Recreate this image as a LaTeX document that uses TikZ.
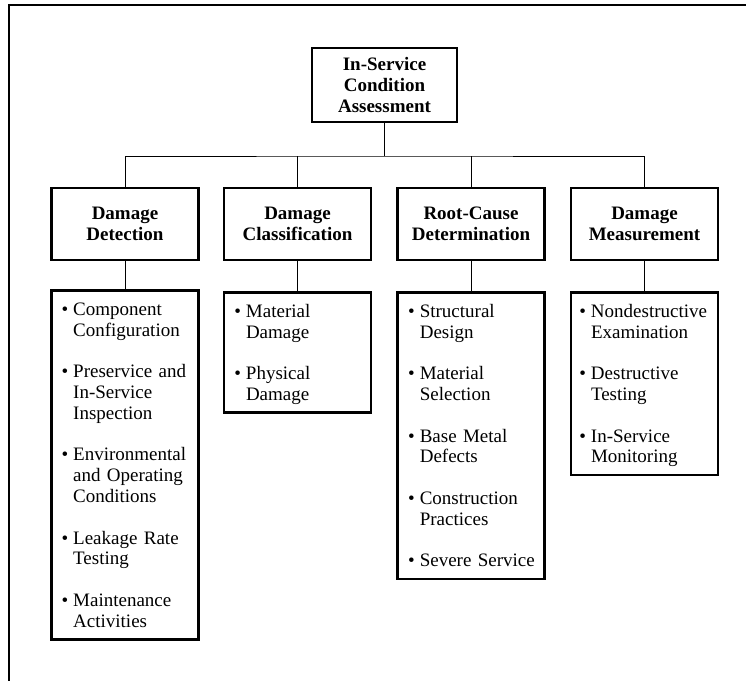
\documentclass[tikz,border=0pt]{standalone}
\usepackage{fontspec}
\setmainfont{Liberation Serif}
\newcommand{\itm}{\leavevmode\llap{\textbullet\kern2.5pt}}
\tikzset{
  headbox/.style={draw, line width=1.35pt, minimum width=73.5pt, minimum height=36pt,
    inner sep=0pt, align=center, font=\fontsize{9.5}{10.4}\selectfont\bfseries},
  listbox/.style={draw, line width=1.35pt, anchor=north, minimum width=73.5pt,
    inner xsep=0pt, inner ysep=0pt, text width=#1, align=left,
    font=\fontsize{9.5}{10.4}\selectfont,
    execute at begin node={\hyphenpenalty=10000\exhyphenpenalty=10000\rule{0pt}{12.5pt}},
    execute at end node={\rule[-6pt]{0pt}{6pt}}},
  link/.style={line width=0.5pt}
}
\begin{document}
\begin{tikzpicture}[x=0.5pt,y=-0.5pt]
\useasboundingbox (0,0) rectangle (746,681);
\draw [line width=1.25pt] (9,700) -- (9,5) -- (760,5);
\node [headbox, minimum width=72.5pt, minimum height=37pt] (isca) at (384.5,85) {In-Service\\Condition\\Assessment};
\node [headbox] (det) at (125,224) {Damage\\Detection};
\node [headbox] (cls) at (297.5,224) {Damage\\Classification};
\node [headbox] (rc) at (471,224) {Root-Cause\\Determination};
\node [headbox] (dm) at (644.5,224) {Damage\\Measurement};
\coordinate (bus) at (384.5,156);
\draw [link] (isca) -- (bus);
\draw [link] (det) |- (bus) -| (dm);
\draw [link] (cls) -- (cls |- bus);
\draw [link] (rc) -- (rc |- bus);
\node [listbox=51.8pt] (detlist) at (125,289) {\itm Component\\Configuration\\[10.4pt]
  \itm Preservice~and\\In-Service\\Inspection\\[10.4pt]
  \itm Environmental\\and~Operating\\Conditions\\[10.4pt]
  \itm Leakage~Rate\\Testing\\[10.4pt]
  \itm Maintenance\\Activities};
\node [listbox=51.5pt] (clslist) at (297.5,291) {\itm Material\\Damage\\[10.4pt]
  \itm Physical\\Damage};
\node [listbox=51.2pt] (rclist) at (471,291) {\itm Structural\\Design\\[10.4pt]
  \itm Material\\Selection\\[10.4pt]
  \itm Base~Metal\\Defects\\[10.4pt]
  \itm Construction\\Practices\\[10.4pt]
  \itm Severe~Service};
\node [listbox=53.5pt] (dmlist) at (644.5,291) {\itm Nondestructive\\Examination\\[10.4pt]
  \itm Destructive\\Testing\\[10.4pt]
  \itm In-Service\\Monitoring};
\draw [link] (det) -- (detlist);
\draw [link] (cls) -- (clslist);
\draw [link] (rc) -- (rclist);
\draw [link] (dm) -- (dmlist);
\end{tikzpicture}
\end{document}
